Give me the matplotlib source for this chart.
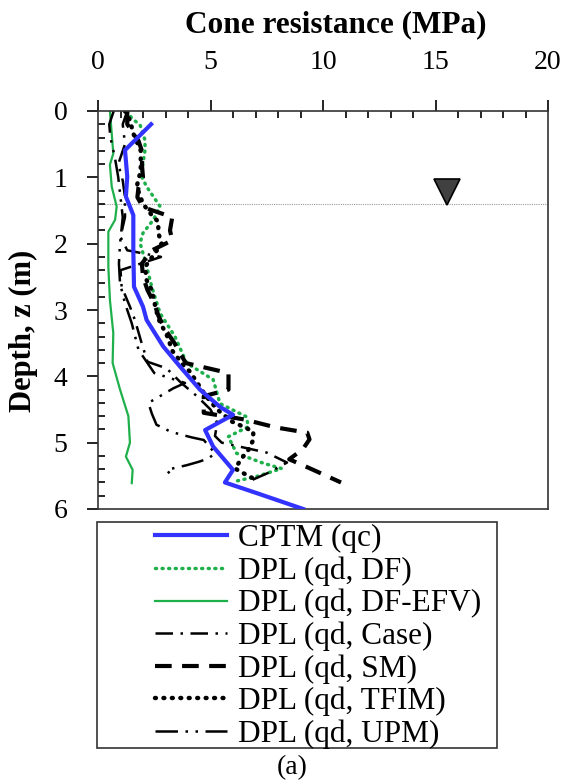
import numpy as np
import matplotlib
matplotlib.use("Agg")
import matplotlib.pyplot as plt
from matplotlib.patches import Rectangle

plt.rcParams['font.family'] = ['Liberation Serif', 'DejaVu Serif']

# depth (m) and resistance (MPa)
cptm_z = [0.2, 0.59, 0.99, 1.29, 1.57, 2.1, 2.65, 2.95, 3.15, 3.55, 3.85, 4.2, 4.46, 4.58, 4.81, 5.06, 5.41, 5.6, 5.76, 6.0]
cptm_q = [2.36, 1.2, 1.3, 1.24, 1.57, 1.57, 1.6, 2.0, 2.16, 2.9, 3.64, 4.53, 5.42, 6.0, 4.76, 5.12, 6.0, 5.64, 7.05, 9.12]

df_z = [0.0, 0.11, 0.21, 0.44, 0.59, 0.79, 0.99, 1.14, 1.44, 1.64, 1.84, 1.99, 2.25, 2.45, 2.65, 3.05, 3.4, 3.8, 4.05, 4.41, 4.61, 4.76, 4.91, 5.16, 5.31, 5.39, 5.51, 5.59]
df_q = [1.3, 1.5, 1.87, 2.09, 2.09, 2.0, 1.94, 2.16, 2.76, 2.46, 2.0, 1.87, 2.09, 2.24, 2.39, 2.76, 3.42, 3.94, 5.12, 5.42, 6.6, 6.68, 5.79, 6.16, 7.35, 8.16, 7.05, 6.0]

efv_z = [0.0, 0.34, 0.64, 0.81, 1.14, 1.44, 1.64, 1.82, 2.35, 2.85, 3.35, 3.8, 4.2, 4.6, 5.0, 5.21, 5.41, 5.61]
efv_q = [0.53, 0.61, 0.68, 0.53, 0.61, 0.83, 0.76, 0.46, 0.46, 0.53, 0.68, 0.65, 0.98, 1.35, 1.42, 1.24, 1.54, 1.5]

case_z = [0.0, 0.2, 0.5, 0.8, 1.05, 1.3, 1.6, 1.9, 2.1, 2.2, 2.4, 2.65, 2.95, 3.15, 3.5, 3.78, 3.88, 4.1, 4.3, 4.5, 4.7, 4.9, 5.0, 5.15, 5.3, 5.45, 5.6]
case_q = [1.3, 1.1, 1.2, 0.9, 1.1, 1.2, 1.2, 1.0, 1.3, 2.8, 1.0, 1.05, 1.42, 1.64, 1.94, 2.2, 3.05, 3.7, 4.4, 5.0, 5.3, 5.2, 5.5, 7.5, 8.4, 7.6, 6.6]

sm_z = [0.0, 0.2, 0.45, 0.65, 0.8, 1.0, 1.15, 1.3, 1.45, 1.6, 1.8, 1.95, 2.1, 2.3, 2.5, 2.7, 2.9, 3.1, 3.3, 3.5, 3.8, 3.95, 4.2, 4.3, 4.55, 4.65, 4.77, 4.85, 4.95, 5.1, 5.25, 5.4, 5.6]
sm_q = [1.3, 1.3, 1.8, 2.0, 1.95, 2.0, 1.8, 1.75, 2.0, 3.3, 3.2, 3.3, 2.4, 1.95, 2.0, 2.2, 2.5, 2.7, 3.0, 3.4, 3.9, 5.8, 5.8, 4.7, 4.7, 6.5, 7.9, 9.3, 9.4, 9.1, 8.5, 9.5, 10.8]

tfim_z = [0.0, 0.14, 0.34, 0.6, 0.9, 1.14, 1.4, 1.57, 1.67, 1.84, 2.0, 2.35, 2.55, 2.7, 2.92, 3.13, 3.43, 3.6, 3.83, 3.93, 4.28, 4.5, 4.68, 4.76, 4.83, 4.96, 5.11, 5.24, 5.39, 5.46, 5.54]
tfim_q = [1.2, 1.42, 1.57, 1.9, 1.9, 1.72, 2.0, 2.39, 2.68, 2.68, 2.83, 2.09, 2.16, 2.39, 2.53, 2.68, 3.13, 3.27, 3.79, 4.09, 4.76, 5.3, 5.94, 6.46, 6.9, 6.9, 6.68, 6.38, 6.09, 6.46, 6.9]

upm_z = [0.0, 0.2, 0.4, 0.7, 1.0, 1.3, 1.6, 2.0, 2.3, 2.6, 2.9, 3.2, 3.6, 3.95, 4.1, 4.18, 4.33, 4.4, 4.56, 4.73, 4.83, 4.88, 4.92, 4.96, 5.16, 5.24, 5.29, 5.34, 5.41, 5.5]
upm_q = [0.7, 0.5, 0.55, 0.75, 0.9, 1.0, 1.1, 0.98, 0.93, 0.98, 1.2, 1.5, 1.8, 2.5, 3.87, 3.35, 2.6, 2.24, 2.39, 2.6, 3.2, 3.7, 4.16, 4.7, 5.2, 4.9, 4.46, 3.94, 3.05, 3.27]

gwl_depth = 1.4
gwl_q = 15.5
gwl_z = 1.22

fig = plt.figure(figsize=(5.65, 7.83), dpi=100)
ax = fig.add_axes([98/565, 1-509/783, 450/565, 398/783])

ax.axhline(gwl_depth, color='#999999', lw=0.8, ls=(0, (1, 1)), zorder=1)
ax.plot([gwl_q], [gwl_z], marker='v', ms=19, mfc='#404040', mec='black', mew=1.2, ls='none', zorder=5)

l1, = ax.plot(cptm_q, cptm_z, color='#3333ff', lw=3, label='CPTM (qc)', zorder=4)
l2, = ax.plot(df_q, df_z, color='#1fb04c', lw=2.5, ls=(0, (0.3, 1.6)), dash_capstyle='round', label='DPL (qd, DF)')
l3, = ax.plot(efv_q, efv_z, color='#1fb04c', lw=1.6, label='DPL (qd, DF-EFV)')
l4, = ax.plot(case_q, case_z, color='black', lw=1.8, ls=(0, (7, 3, 1, 3)), label='DPL (qd, Case)')
l5, = ax.plot(sm_q, sm_z, color='black', lw=3, ls=(0, (4, 2.5)), label='DPL (qd, SM)')
l6, = ax.plot(tfim_q, tfim_z, color='black', lw=3.2, ls=(0, (0.2, 1.7)), dash_capstyle='round', label='DPL (qd, TFIM)')
l7, = ax.plot(upm_q, upm_z, color='black', lw=1.8, ls=(0, (9, 3, 1, 3, 1, 3)), label='DPL (qd, UPM)')

ax.set_xlim(0, 20)
ax.set_ylim(6, 0)
ax.xaxis.tick_top()
ax.set_xticks([0, 5, 10, 15, 20])
ax.set_xticks(np.arange(0, 21, 1), minor=True)
ax.set_yticks(range(0, 7))
ax.set_yticks(np.arange(0, 6.01, 0.2), minor=True)
ax.tick_params(which='major', direction='out', length=8, width=1.2, labelsize=20)
ax.tick_params(axis='x', which='major', pad=18)
ax.tick_params(axis='y', which='major', pad=14)
ax.tick_params(which='minor', direction='in', length=5, width=1.2)
ax.tick_params(axis='x', which='both', top=True, bottom=False)
for s in ax.spines.values():
    s.set_linewidth(1.2)
    s.set_color('#333333')

fig.text(336/565, 1-25/783, 'Cone resistance (MPa)', fontsize=22.5, fontweight='bold', ha='center', va='center')
fig.text(23/565, 1-331/783, 'Depth, z (m)', fontsize=22, fontweight='bold', ha='center', va='center', rotation=90)

# legend box drawn separately
fig.patches.append(Rectangle((97/565, 1-748/783), 400/565, 226/783, transform=fig.transFigure,
                             fill=False, ec='#333333', lw=1.2))
fig.legend(handles=[l1, l2, l3, l4, l5, l6, l7], loc='upper left', bbox_to_anchor=(152/565, 1-521/783),
           frameon=False, fontsize=22.5, handlelength=2.3, handletextpad=0.35,
           labelspacing=0.1, borderpad=0.1, borderaxespad=0)

fig.text(292/565, 1-768/783, '(a)', fontsize=20, ha='center', va='center')

fig.savefig('out.png', dpi=100)
